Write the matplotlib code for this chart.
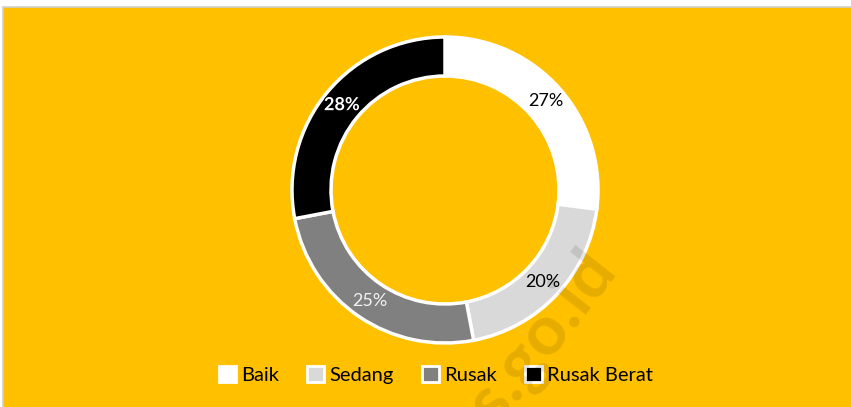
import matplotlib
matplotlib.use('Agg')
import matplotlib.pyplot as plt
import matplotlib.patheffects as pe
from matplotlib.patches import Rectangle, Patch

plt.rcParams['font.family'] = ['Lato', 'DejaVu Sans']

# data
categories = ['Baik', 'Sedang', 'Rusak', 'Rusak Berat']
values = [27, 20, 25, 28]
colors = ['#FFFFFF', '#D9D9D9', '#808080', '#000000']
label_colors = ['black', 'black', '#F2F2F2', 'white']

fig = plt.figure(figsize=(8.51, 4.07), dpi=100, facecolor='white')
ax = fig.add_axes([0, 0, 1, 1])

# orange chart area with thin grey border
ax.add_patch(Rectangle((3, -5), 860, 405, facecolor='#FFC000',
                       edgecolor='#D0D0D0', linewidth=1.2, zorder=0))

wedges, texts, pcts = ax.pie(values, colors=colors, startangle=90,
                             counterclock=False, radius=153,
                             center=(445, 217), autopct='%.0f%%',
                             pctdistance=0.875,
                             wedgeprops=dict(width=39, edgecolor='white',
                                             linewidth=2.5),
                             textprops=dict(fontsize=13))
for t, c in zip(pcts, label_colors):
    t.set_color(c)
pcts[3].set_fontweight('bold')
pcts[3].set_path_effects([pe.withStroke(linewidth=1.5, foreground='black')])

ax.set_xlim(0, 851)
ax.set_ylim(0, 407)
ax.set_aspect('equal')
ax.axis('off')

# watermark (cut off by the bottom edge, as in the original)
ax.text(603, 150, 'bps.go.id', fontsize=50, fontweight='bold', color='black',
        alpha=0.1, rotation=52, rotation_mode='anchor', ha='right',
        va='center', zorder=10)

handles = [Patch(facecolor=c, edgecolor='white', linewidth=2) for c in colors]
leg = ax.legend(handles, categories, loc='center', ncol=4,
                bbox_to_anchor=(436 / 851, 32 / 407), frameon=False,
                fontsize=14.5, handlelength=0.85, handleheight=0.85,
                handletextpad=0.25, columnspacing=1.4)

fig.savefig('out.png', dpi=100, facecolor='white')
